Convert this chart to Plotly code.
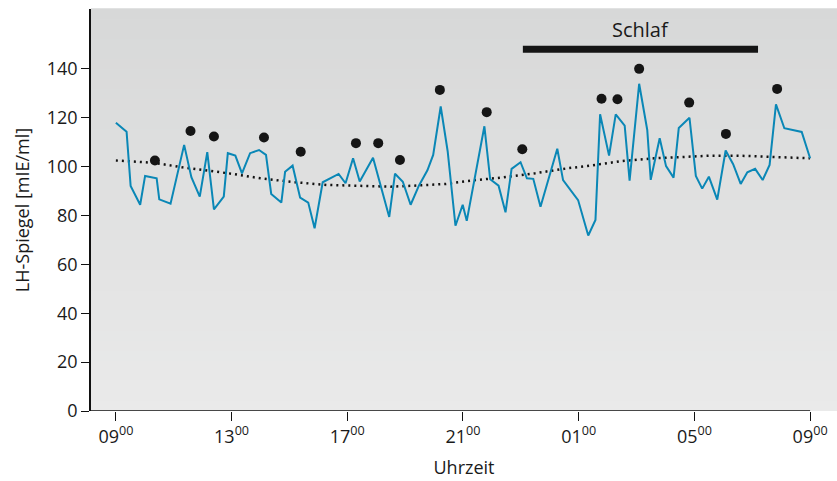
import plotly.graph_objects as go

# Hours after 09:00 and LH level (mIE/ml)
hours = [0.0, 0.37, 0.51, 0.84, 1.01, 1.41, 1.50, 1.89, 2.36, 2.61, 2.90, 3.16, 3.39, 3.73, 3.87,
         4.13, 4.36, 4.64, 4.95, 5.19, 5.37, 5.72, 5.85, 6.11, 6.37, 6.65, 6.87, 7.15, 7.70, 7.94,
         8.20, 8.43, 8.89, 9.45, 9.65, 9.92, 10.19, 10.48, 10.77, 10.97, 11.23, 11.47, 11.74, 11.99,
         12.13, 12.74, 12.94, 13.23, 13.47, 13.68, 13.99, 14.21, 14.43, 14.68, 15.26, 15.46, 15.98,
         16.33, 16.58, 16.74, 17.05, 17.28, 17.59, 17.76, 18.09, 18.37, 18.49, 18.80, 19.02, 19.28,
         19.46, 19.83, 20.05, 20.27, 20.50, 20.79, 21.08, 21.34, 21.60, 21.83, 22.10, 22.36, 22.60,
         22.82, 23.11, 23.71, 24.00]
lh = [118.0, 114.3, 92.1, 84.4, 96.2, 95.2, 86.6, 84.8, 108.9, 95.7, 87.7, 105.9, 82.5, 87.7, 105.5,
      104.5, 97.2, 105.5, 106.8, 104.8, 88.8, 85.3, 97.9, 100.4, 87.3, 85.3, 74.8, 93.6, 97.0, 93.2,
      103.4, 93.9, 103.6, 79.4, 97.1, 93.8, 84.4, 92.3, 98.5, 104.8, 124.6, 106.3, 75.8, 84.4,
      77.8, 116.5, 94.8, 92.2, 81.3, 99.1, 101.8, 95.2, 95.0, 83.6, 107.3, 94.5, 86.3,
      71.8, 78.2, 121.4, 104.5, 121.4, 116.8, 94.3, 133.9, 115.0, 94.6, 111.6, 100.2, 95.5,
      115.8, 120.0, 96.2, 91.0, 95.9, 86.5, 106.6, 101.0, 92.9, 97.7, 99.1, 94.5, 100.7,
      125.5, 115.7, 114.2, 103.4]

# Pulse markers (black dots)
peak_hours = [1.35, 2.58, 3.39, 5.12, 6.39, 8.30, 9.07, 9.82, 11.20, 12.82, 14.05, 16.79, 17.34,
              18.09, 19.82, 21.09, 22.86]
peak_lh = [102.5, 114.6, 112.3, 111.9, 106.1, 109.6, 109.6, 102.7, 131.4, 122.3, 107.1, 127.8,
           127.6, 140.0, 126.2, 113.4, 131.8]

# Dotted trend curve
trend_hours = [0.0, 1.3, 2.3, 3.2, 4.0, 5.0, 6.2, 7.3, 8.2, 9.5, 10.3, 11.4, 12.3, 13.3, 14.5,
               15.6, 16.4, 17.5, 18.6, 19.8, 20.6, 21.5, 22.7, 24.0]
trend_lh = [102.5, 101.6, 99.7, 98.4, 97.1, 95.2, 93.6, 92.5, 92.2, 91.8, 92.2, 92.9, 94.3, 95.5,
            97.3, 99.3, 100.4, 102.3, 103.4, 104.1, 104.5, 104.5, 104.1, 103.4]

# Sleep period
sleep_hours = [14.07, 22.2]
sleep_level = [148, 148]
sleep_label = "Schlaf"

x_tick_vals = [0, 4, 8, 12, 16, 20, 24]
x_tick_text = ["09<sup>00</sup>", "13<sup>00</sup>", "17<sup>00</sup>", "21<sup>00</sup>",
               "01<sup>00</sup>", "05<sup>00</sup>", "09<sup>00</sup>"]
y_tick_vals = [0, 20, 40, 60, 80, 100, 120, 140]

X_RANGE = [-0.86, 24.93]
Y_RANGE = [0, 164.5]
FONT = "Open Sans"

fig = go.Figure()

fig.add_trace(go.Scatter(x=trend_hours, y=trend_lh, mode="lines",
                         line=dict(color="#111111", width=2.5, dash="2px,4px"),
                         hoverinfo="skip", showlegend=False))
fig.add_trace(go.Scatter(x=hours, y=lh, mode="lines",
                         line=dict(color="#0a87b6", width=2),
                         showlegend=False))
fig.add_trace(go.Scatter(x=peak_hours, y=peak_lh, mode="markers",
                         marker=dict(color="#151515", size=10),
                         showlegend=False))
fig.add_trace(go.Scatter(x=sleep_hours, y=sleep_level, mode="lines",
                         line=dict(color="#151515", width=7),
                         showlegend=False))

fig.add_annotation(x=sum(sleep_hours) / 2, y=156, text=sleep_label, showarrow=False,
                   font=dict(family=FONT, size=20, color="#1a1a1a"))

# Gradient background bands
shapes = []
n = 40
top = (215, 216, 216)
bot = (234, 234, 234)
for i in range(n):
    t = (i + 0.5) / n
    c = tuple(round(bot[k] + (top[k] - bot[k]) * t) for k in range(3))
    shapes.append(dict(type="rect", xref="paper", yref="paper", x0=0, x1=1,
                       y0=i / n, y1=(i + 1) / n + 0.002, fillcolor="rgb(%d,%d,%d)" % c,
                       line=dict(width=0), layer="below"))
# x-axis line only up to last tick
shapes.append(dict(type="line", xref="x", yref="y", x0=X_RANGE[0], x1=24, y0=0, y1=0,
                   line=dict(color="#111111", width=1.5)))
fig.update_layout(shapes=shapes)

fig.update_layout(
    width=837, height=481,
    margin=dict(l=91, r=0, t=9, b=70),
    paper_bgcolor="white", plot_bgcolor="rgb(225,225,225)",
    font=dict(family=FONT, size=18, color="#1a1a1a"),
    xaxis=dict(range=X_RANGE, tickvals=x_tick_vals, ticktext=x_tick_text,
               ticks="outside", ticklen=9, tickcolor="#111111", tickwidth=1.3,
               showgrid=False, zeroline=False, showline=False,
               title=dict(text="Uhrzeit", font=dict(size=18), standoff=14),
               tickfont=dict(size=18)),
    yaxis=dict(range=Y_RANGE, tickvals=y_tick_vals, ticks="outside", ticklen=8,
               tickcolor="#111111", tickwidth=1.3, showgrid=False, zeroline=False,
               showline=True, linecolor="#111111", linewidth=1.5,
               title=dict(text="LH-Spiegel [mIE/ml]", font=dict(size=18), standoff=12),
               tickfont=dict(size=18)),
)

fig.write_html("out.html")
